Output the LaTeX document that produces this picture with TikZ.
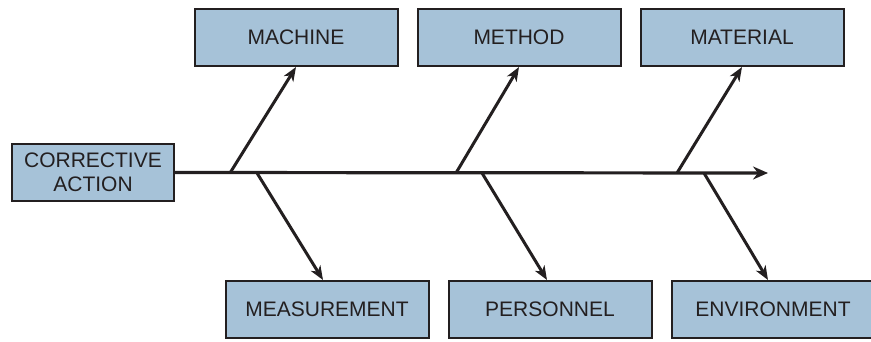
\documentclass[tikz,border=0pt]{standalone}
\usepackage{fontspec}
\setmainfont{Liberation Sans}
\usetikzlibrary{arrows.meta, positioning}
\definecolor{boxblue}{RGB}{166,194,216}
\definecolor{inkblack}{RGB}{35,31,32}
\tikzset{
  causebox/.style={rectangle, draw=inkblack, line width=2pt, fill=boxblue,
                   minimum width=203pt, minimum height=57pt, inner sep=0pt,
                   text=inkblack, font=\fontsize{21}{24}\selectfont, align=center},
  effectbox/.style={causebox, minimum width=162pt},
  spine/.style={draw=inkblack, line width=3.2pt,
                -{Stealth[length=15pt, width=13pt, inset=5pt]}},
  bone/.style={draw=inkblack, line width=3pt,
               -{Stealth[length=14pt, width=11pt, inset=4pt]}}
}

\begin{document}
\begin{tikzpicture}[x=1pt, y=-1pt]
  \useasboundingbox (0,0) rectangle (871,341);

  \node[effectbox] (action) at (93,172.5) {CORRECTIVE\\ACTION};

  \node[causebox] (machine) at (296,37.5) {MACHINE};
  \node[causebox, right=18pt of machine] (method) {METHOD};
  \node[causebox, right=18pt of method] (material) {MATERIAL};

  \node[causebox] (measure) at (327,309.5) {MEASUREMENT};
  \node[causebox, right=18pt of measure] (personnel) {PERSONNEL};
  \node[causebox, right=18pt of personnel] (environment) {ENVIRONMENT};

  \coordinate (head) at (768,173);
  \coordinate (fork1) at (230,173);
  \coordinate (fork2) at (456,173);
  \coordinate (fork3) at (677,173);
  \coordinate (fork4) at (257,173);
  \coordinate (fork5) at (482,173);
  \coordinate (fork6) at (704,173);

  \draw[spine] (action.east) -- (head);
  \draw[bone] (fork1) -- (machine.south);
  \draw[bone] (fork2) -- (method.south);
  \draw[bone] (fork3) -- (material.south);
  \draw[bone] (fork4) -- ([xshift=-4pt]measure.north);
  \draw[bone] (fork5) -- ([xshift=-3pt]personnel.north);
  \draw[bone] (fork6) -- ([xshift=-5pt]environment.north);

\end{tikzpicture}
\end{document}
